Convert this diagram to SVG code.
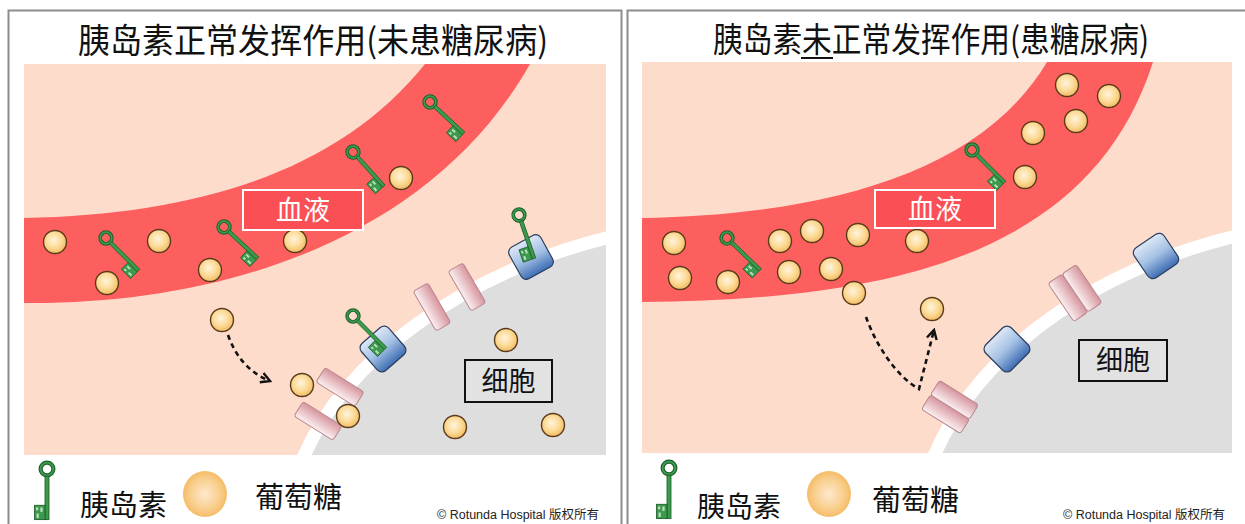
<svg xmlns="http://www.w3.org/2000/svg" xmlns:xlink="http://www.w3.org/1999/xlink" width="1245" height="524" viewBox="0 0 1245 524">
  <style>
    .frame { fill: #ffffff; stroke: #8c8c8c; stroke-width: 2; }
    .scene { fill: #fddccb; }
    .blood { fill: #fd5f5f; }
    .cell { fill: #dedede; }
    .membrane { fill: none; stroke: #ffffff; stroke-width: 13; }
    .title { font-family: "Noto Sans CJK SC", "Noto Sans", sans-serif; font-size: 34px; fill: #111111; }
    .legend { font-family: "Noto Sans CJK SC", "Noto Sans", sans-serif; font-size: 29px; fill: #111111; }
    .copy { font-family: "Liberation Sans", "Noto Sans CJK SC", sans-serif; font-size: 12.5px; fill: #222222; }
    .bloodBox { fill: #f94f55; stroke: #ffffff; stroke-width: 2; }
    .bloodText { font-family: "Noto Sans CJK SC", sans-serif; font-size: 27px; fill: #ffffff; text-anchor: middle; }
    .cellBox { fill: #e2e2e2; stroke: #111111; stroke-width: 2; }
    .cellText { font-family: "Noto Sans CJK SC", sans-serif; font-size: 27px; fill: #111111; text-anchor: middle; }
    .flow { fill: none; stroke: #111111; stroke-width: 2.6; stroke-dasharray: 5 4; }
    .receptor { fill: url(#gRec); stroke: #2c3e60; stroke-width: 1.2; }
    .bar { fill: url(#gBar); stroke: #b8868d; stroke-width: 1; }
  </style>
  <defs>
    <radialGradient id="gGlu" cx="0.45" cy="0.42" r="0.62">
      <stop offset="0" stop-color="#fff4dc"/>
      <stop offset="0.55" stop-color="#fcda96"/>
      <stop offset="1" stop-color="#f0b75a"/>
    </radialGradient>
    <radialGradient id="gGluSoft" cx="0.5" cy="0.5" r="0.55">
      <stop offset="0" stop-color="#fde9cf"/>
      <stop offset="0.6" stop-color="#f9cf8e"/>
      <stop offset="1" stop-color="#f3b75c"/>
    </radialGradient>
    <linearGradient id="gRec" x1="0" y1="0" x2="0" y2="1">
      <stop offset="0" stop-color="#dde8f6"/>
      <stop offset="0.5" stop-color="#a3c0e3"/>
      <stop offset="1" stop-color="#3e6db3"/>
    </linearGradient>
    <linearGradient id="gBar" x1="0" y1="0" x2="1" y2="0">
      <stop offset="0" stop-color="#fbf0f1"/>
      <stop offset="1" stop-color="#d6959e"/>
    </linearGradient>
    <clipPath id="clipL"><rect x="24" y="64" width="582" height="391"/></clipPath>
    <clipPath id="clipR"><rect x="642" y="62" width="590" height="391"/></clipPath>
    <marker id="chev" viewBox="0 0 12 12" refX="10" refY="6" markerWidth="12" markerHeight="12" markerUnits="userSpaceOnUse" orient="auto">
      <path d="M1,1 L10,6 L1,11" fill="none" stroke="#111111" stroke-width="2.4"/>
    </marker>
    <!-- key: ring at origin, shaft along +x, bit on the +y side -->
    <g id="key">
      <circle cx="0" cy="0" r="5.8" fill="none" stroke="#1d5e2b" stroke-width="3.8"/>
      <circle cx="0" cy="0" r="5.8" fill="none" stroke="#3c9a4d" stroke-width="1.8"/>
      <rect x="6.5" y="-1.8" width="39.5" height="3.6" fill="#3c9a4d" stroke="#1d5e2b" stroke-width="0.8"/>
      <rect x="33" y="1.8" width="13" height="9.5" fill="#3c9a4d" stroke="#1d5e2b" stroke-width="0.8"/>
      <rect x="35" y="4" width="4" height="2" fill="#b9dfc0"/>
      <rect x="40.5" y="7.5" width="4" height="2" fill="#b9dfc0"/>
      <rect x="35" y="8" width="2.5" height="2" fill="#b9dfc0"/>
    </g>
    <circle id="glu" cx="0" cy="0" r="11.5" fill="url(#gGlu)" stroke="#5a3a1c" stroke-width="1.4"/>
    <rect id="rec" x="-18" y="-18" width="36" height="36" rx="6" class="receptor"/>
    <rect id="bar" x="-8.5" y="-23" width="17" height="46" rx="3" class="bar"/>
  </defs>

  <!-- panel frames -->
  <rect class="frame" x="8.5" y="10.5" width="613" height="530"/>
  <rect class="frame" x="627.5" y="10.5" width="630" height="530"/>

  <!-- titles -->
  <text class="title" x="78" y="53" textLength="470" lengthAdjust="spacingAndGlyphs">胰岛素正常发挥作用(未患糖尿病)</text>
  <text class="title" x="713" y="52" textLength="436" lengthAdjust="spacingAndGlyphs">胰岛素未正常发挥作用(患糖尿病)</text>
  <line x1="801" y1="58" x2="833" y2="58" stroke="#111111" stroke-width="2"/>

  <!-- left scene: insulin working -->
  <g id="sceneLeft" clip-path="url(#clipL)">
    <rect class="scene" x="24" y="64" width="582" height="391"/>
    <path class="blood" d="M0,218 L24,218 C200,215 340,170 425,64 L530,64 C430,240 220,305 24,303 L0,303 Z"/>
    <path class="cell" d="M303,455 C345,360 460,275 606,238 L640,238 L640,480 L303,480 Z"/>
    <path class="membrane" d="M303,458 C345,360 460,275 606,238 L640,230"/>
  </g>

  <!-- right scene: insulin not working -->
  <g id="sceneRight" clip-path="url(#clipR)">
    <rect class="scene" x="642" y="62" width="590" height="391"/>
    <path class="blood" d="M620,218 L642,218 C820,215 980,175 1047,62 L1153,62 C1090,260 880,300 642,302 L620,302 Z"/>
    <path class="cell" d="M935,453 C975,360 1080,275 1232,237 L1260,237 L1260,480 L935,480 Z"/>
    <path class="membrane" d="M934,456 C975,360 1080,275 1232,237 L1260,232"/>
  </g>

  <!-- receptors -->
  <g id="receptorsLeft">
    <use href="#rec" transform="translate(531,257) rotate(-29)"/>
    <use href="#rec" transform="translate(383,349) rotate(-41)"/>
  </g>
  <g id="receptorsRight">
    <use href="#rec" transform="translate(1156,256) rotate(-34)"/>
    <use href="#rec" transform="translate(1007,349) rotate(-45)"/>
  </g>

  <!-- glucose channels -->
  <g id="channelsLeft">
    <use href="#bar" transform="translate(432,307) rotate(-30)"/>
    <use href="#bar" transform="translate(467,287) rotate(-30)"/>
    <use href="#bar" transform="translate(340,387) rotate(-58)"/>
    <use href="#bar" transform="translate(318,421) rotate(-58)"/>
  </g>
  <g id="channelsRight">
    <g transform="translate(1075,293) rotate(-34)">
      <use href="#bar" x="-8.5"/>
      <use href="#bar" x="8.5"/>
    </g>
    <g transform="translate(950,407) rotate(-58)">
      <use href="#bar" x="-8.5"/>
      <use href="#bar" x="8.5"/>
    </g>
  </g>

  <!-- insulin keys -->
  <g id="keysLeft">
    <use href="#key" transform="translate(106,238) rotate(45)"/>
    <use href="#key" transform="translate(224,227) rotate(43)"/>
    <use href="#key" transform="translate(353,152) rotate(48)"/>
    <use href="#key" transform="translate(430,102) rotate(43)"/>
    <use href="#key" transform="translate(519,215) rotate(71)"/>
    <use href="#key" transform="translate(353,316) rotate(45)"/>
  </g>
  <g id="keysRight">
    <use href="#key" transform="translate(727,238) rotate(44)"/>
    <use href="#key" transform="translate(972,150) rotate(45)"/>
  </g>

  <!-- glucose -->
  <g id="glucoseLeft">
    <use href="#glu" x="55" y="242"/>
    <use href="#glu" x="107" y="283"/>
    <use href="#glu" x="159" y="241"/>
    <use href="#glu" x="210" y="270"/>
    <use href="#glu" x="295" y="241"/>
    <use href="#glu" x="401" y="178"/>
    <use href="#glu" x="222" y="320"/>
    <use href="#glu" x="302" y="385"/>
    <use href="#glu" x="348" y="416"/>
    <use href="#glu" x="506" y="340"/>
    <use href="#glu" x="455" y="427"/>
    <use href="#glu" x="553" y="425"/>
  </g>
  <g id="glucoseRight">
    <use href="#glu" x="674" y="243"/>
    <use href="#glu" x="680" y="278"/>
    <use href="#glu" x="728" y="282"/>
    <use href="#glu" x="780" y="241"/>
    <use href="#glu" x="789" y="272"/>
    <use href="#glu" x="812" y="231"/>
    <use href="#glu" x="831" y="269"/>
    <use href="#glu" x="858" y="235"/>
    <use href="#glu" x="917" y="241"/>
    <use href="#glu" x="854" y="293"/>
    <use href="#glu" x="932" y="309"/>
    <use href="#glu" x="1025" y="177"/>
    <use href="#glu" x="1033" y="133"/>
    <use href="#glu" x="1076" y="121"/>
    <use href="#glu" x="1067" y="85"/>
    <use href="#glu" x="1109" y="96"/>
  </g>

  <!-- region labels -->
  <g id="labelBloodLeft">
    <rect class="bloodBox" x="243" y="190" width="120" height="40"/>
    <text class="bloodText" x="303" y="220">血液</text>
  </g>
  <g id="labelCellLeft">
    <rect class="cellBox" x="465" y="360" width="87" height="42"/>
    <text class="cellText" x="508.5" y="391">细胞</text>
  </g>
  <g id="labelBloodRight">
    <rect class="bloodBox" x="875" y="190" width="120" height="38"/>
    <text class="bloodText" x="935" y="219">血液</text>
  </g>
  <g id="labelCellRight">
    <rect class="cellBox" x="1079" y="340" width="88" height="41"/>
    <text class="cellText" x="1123" y="370">细胞</text>
  </g>

  <!-- glucose movement arrows -->
  <g id="connectors">
    <path class="flow" d="M228,335 Q240,369 270,381" marker-end="url(#chev)"/>
    <path class="flow" d="M866,317 C876,345 896,376 919,389 L934,330" marker-end="url(#chev)"/>
  </g>

  <!-- legends -->
  <g id="legendLeft">
    <use href="#key" transform="translate(47,469) rotate(90) scale(1.1)"/>
    <text class="legend" x="80" y="516">胰岛素</text>
    <ellipse cx="205" cy="494" rx="22" ry="23" fill="url(#gGluSoft)"/>
    <text class="legend" x="255" y="508">葡萄糖</text>
    <text class="copy" x="437" y="519">© Rotunda Hospital 版权所有</text>
  </g>
  <g id="legendRight">
    <use href="#key" transform="translate(669,468) rotate(90) scale(1.1)"/>
    <text class="legend" x="697" y="517" style="font-size:28px">胰岛素</text>
    <ellipse cx="829" cy="494" rx="22" ry="23" fill="url(#gGluSoft)"/>
    <text class="legend" x="872" y="511">葡萄糖</text>
    <text class="copy" x="1063" y="519">© Rotunda Hospital 版权所有</text>
  </g>
</svg>
